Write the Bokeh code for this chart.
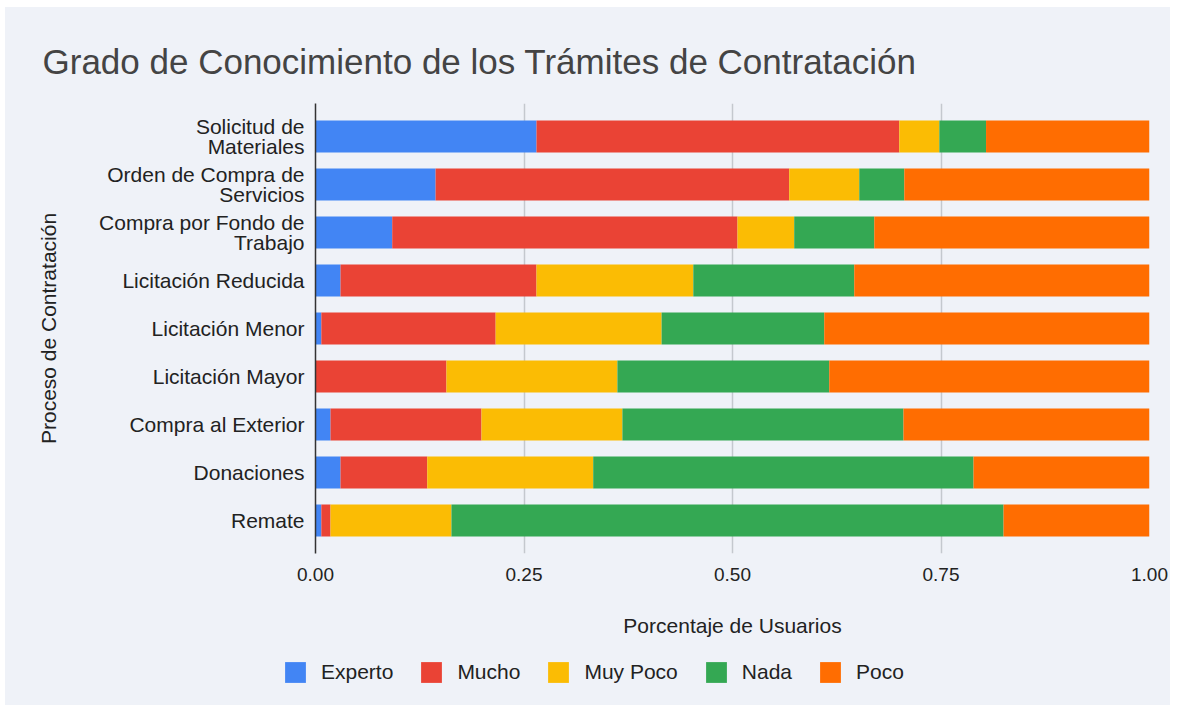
from bokeh.plotting import figure
from bokeh.models import (ColumnDataSource, FactorRange, Range1d, FixedTicker,
                          NumeralTickFormatter, Legend, LegendItem, Title)
from bokeh.layouts import column
from bokeh.embed import file_html
from bokeh.resources import INLINE

categories = ["Solicitud de\nMateriales", "Orden de Compra de\nServicios",
              "Compra por Fondo de\nTrabajo", "Licitación Reducida",
              "Licitación Menor", "Licitación Mayor", "Compra al Exterior",
              "Donaciones", "Remate"]
levels = ["Experto", "Mucho", "Muy Poco", "Nada", "Poco"]
experto = [0.265, 0.144, 0.092, 0.030, 0.007, 0.000, 0.018, 0.030, 0.007]
mucho = [0.435, 0.424, 0.414, 0.235, 0.209, 0.157, 0.181, 0.104, 0.011]
muy_poco = [0.048, 0.084, 0.068, 0.188, 0.199, 0.205, 0.169, 0.199, 0.145]
nada = [0.056, 0.054, 0.096, 0.193, 0.195, 0.254, 0.337, 0.456, 0.662]
poco = [0.196, 0.294, 0.330, 0.354, 0.390, 0.384, 0.295, 0.211, 0.175]
x_ticks = [0, 0.25, 0.5, 0.75, 1.0]
colors = ["#4285F4", "#EA4335", "#FBBC04", "#34A853", "#FF6D01"]

BG = "#EFF2F8"
FONT = "Liberation Sans"
W = 1165

source = ColumnDataSource(dict(cat=categories, Experto=experto, Mucho=mucho,
                               **{"Muy Poco": muy_poco}, Nada=nada, Poco=poco))

p = figure(width=W, height=638, output_backend="svg", toolbar_location=None,
           y_range=FactorRange(factors=list(reversed(categories)),
                               range_padding=0.1875, range_padding_units="absolute"),
           x_range=Range1d(0, 1),
           min_border_left=310, min_border_right=21, min_border_top=96,
           min_border_bottom=92)
p.title = None
p.background_fill_color = BG
p.border_fill_color = BG
p.outline_line_color = None

renderers = p.hbar_stack(levels, y="cat", height=0.67, color=colors,
                         source=source, line_color=None)

t = Title(text="Grado de Conocimiento de los Trámites de Contratación",
          text_font=FONT, text_font_size="35px", text_font_style="normal",
          text_color="#444444", align="left", offset=-273, standoff=45)
p.add_layout(t, "above")

# x axis
p.xaxis.ticker = FixedTicker(ticks=x_ticks)
p.xaxis.formatter = NumeralTickFormatter(format="0.00")
p.xaxis.axis_line_color = None
p.xaxis.major_tick_line_color = None
p.xaxis.minor_tick_line_color = None
p.xaxis.major_label_text_font = FONT
p.xaxis.major_label_text_font_size = "19px"
p.xaxis.major_label_text_color = "#222222"
p.xaxis.major_label_standoff = 8
p.xaxis.axis_label = "Porcentaje de Usuarios"
p.xaxis.axis_label_text_font = FONT
p.xaxis.axis_label_text_font_size = "21px"
p.xaxis.axis_label_text_font_style = "normal"
p.xaxis.axis_label_text_color = "#222222"
p.xaxis.axis_label_standoff = 30

# y axis
p.yaxis.axis_line_color = "#333333"
p.yaxis.axis_line_width = 1.5
p.yaxis.major_tick_line_color = None
p.yaxis.minor_tick_line_color = None
p.yaxis.major_label_text_font = FONT
p.yaxis.major_label_text_font_size = "21px"
p.yaxis.major_label_text_color = "#222222"
p.yaxis.major_label_text_line_height = 0.9
p.yaxis.major_label_standoff = 5
p.yaxis.axis_label = "Proceso de Contratación"
p.yaxis.axis_label_text_font = FONT
p.yaxis.axis_label_text_font_size = "21px"
p.yaxis.axis_label_text_font_style = "normal"
p.yaxis.axis_label_text_color = "#222222"
p.yaxis.axis_label_standoff = 36

p.xgrid.grid_line_color = "#C4C8CE"
p.xgrid.grid_line_width = 1.5
p.ygrid.grid_line_color = None

# legend strip below the chart
lg = figure(width=W, height=60, output_backend="svg", toolbar_location=None,
            x_axis_type=None, y_axis_type=None, x_range=Range1d(0, 1),
            y_range=Range1d(0, 1), min_border=0, min_border_left=0,
            min_border_right=0)
if "frame_align" in lg.properties():
    lg.frame_align = False
    leg_x = 277
else:
    leg_x = 277 - 310
lg.title = None
lg.background_fill_color = None
lg.border_fill_color = BG
lg.outline_line_color = None
lg.xgrid.visible = False
lg.ygrid.visible = False
items = []
for lvl, c in zip(levels, colors):
    r = lg.rect(x=[-10], y=[-10], width=0.1, height=0.1, fill_color=c,
                line_color=None)
    items.append(LegendItem(label=lvl, renderers=[r]))
legend = Legend(items=items, orientation="horizontal", location=(leg_x, 20),
                glyph_width=26, glyph_height=26, label_standoff=13, spacing=25,
                padding=0, margin=0, border_line_color=None,
                background_fill_alpha=0,
                label_text_font=FONT, label_text_font_size="21px",
                label_text_color="#222222")
lg.add_layout(legend, "center")

layout = column(p, lg, spacing=0, margin=(7, 0, 0, 5),
                styles={"background-color": BG})
open("out.html", "w").write(file_html(layout, INLINE))
